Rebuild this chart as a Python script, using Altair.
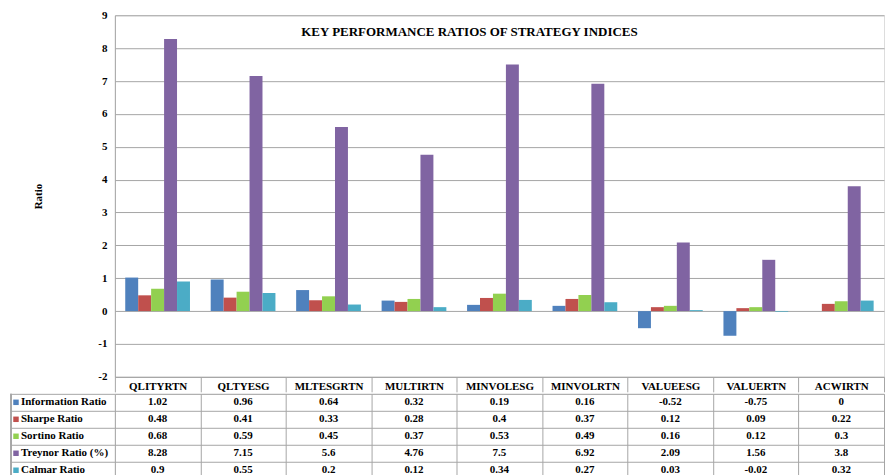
import altair as alt
import pandas as pd

categories = ["QLITYRTN", "QLTYESG", "MLTESGRTN", "MULTIRTN", "MINVOLESG",
              "MINVOLRTN", "VALUEESG", "VALUERTN", "ACWIRTN"]
series_names = ["Information Ratio", "Sharpe Ratio", "Sortino Ratio",
                "Treynor Ratio (%)", "Calmar Ratio"]
information = [1.02, 0.96, 0.64, 0.32, 0.19, 0.16, -0.52, -0.75, 0]
sharpe = [0.48, 0.41, 0.33, 0.28, 0.4, 0.37, 0.12, 0.09, 0.22]
sortino = [0.68, 0.59, 0.45, 0.37, 0.53, 0.49, 0.16, 0.12, 0.3]
treynor = [8.28, 7.15, 5.6, 4.76, 7.5, 6.92, 2.09, 1.56, 3.8]
calmar = [0.9, 0.55, 0.2, 0.12, 0.34, 0.27, 0.03, -0.02, 0.32]
colors = ["#4F81BD", "#C0504D", "#92D050", "#8064A2", "#4BACC6"]
y_ticks = list(range(-2, 10))

values = [information, sharpe, sortino, treynor, calmar]
rows = []
for s, vals in zip(series_names, values):
    for c, v in zip(categories, vals):
        rows.append({"category": c, "series": s, "value": v, "label": f"{v:g}"})
df = pd.DataFrame(rows)
legend_df = pd.DataFrame({"series": series_names})

FONT = "Liberation Serif"
GRID = "#A6A6A6"
W = 770
H = 362
ROW = 17

x_scale = alt.Scale(domain=categories, paddingInner=0, paddingOuter=0)
color_scale = alt.Scale(domain=series_names, range=colors)

bars = alt.Chart(df).mark_bar().encode(
    x=alt.X("category:N", scale=x_scale, sort=categories,
            axis=alt.Axis(title=None, labelAngle=0, labelFont=FONT, labelFontWeight="bold",
                          labelFontSize=11, labelColor="black", tickBand="extent",
                          tickSize=15, tickColor=GRID, domainColor=GRID,
                          labelBaseline="bottom", labelPadding=0)),
    xOffset=alt.XOffset("series:N", sort=series_names,
                        scale=alt.Scale(domain=series_names, paddingOuter=0.8, paddingInner=0)),
    y=alt.Y("value:Q", scale=alt.Scale(domain=[-2, 9], nice=False),
            axis=alt.Axis(title="Ratio", values=y_ticks, labelExpr="'' + datum.value",
                          labelFont=FONT,
                          labelFontWeight="bold", labelFontSize=11, labelColor="black",
                          ticks=False, labelPadding=8, gridColor=GRID, domainColor=GRID,
                          titleFont=FONT, titleFontWeight="bold", titleFontSize=11,
                          titleColor="black", titlePadding=54)),
    color=alt.Color("series:N", scale=color_scale, legend=None),
).properties(
    width=W, height=H,
    title=alt.TitleParams("KEY PERFORMANCE RATIOS OF STRATEGY INDICES", font=FONT,
                          fontSize=13, fontWeight="bold", color="black",
                          anchor="middle", offset=-30, dx=-30),
)

y_tab = alt.Y("series:N", sort=series_names,
              scale=alt.Scale(domain=series_names, paddingInner=0, paddingOuter=0),
              axis=alt.Axis(title=None, labels=False, ticks=True, tickSize=104,
                            tickBand="extent", grid=True, gridColor=GRID, tickColor=GRID,
                            domain=False))

cells = alt.Chart(df).mark_text(font=FONT, fontWeight="bold", fontSize=11,
                                color="black").encode(
    x=alt.X("category:N", scale=x_scale, sort=categories,
            axis=alt.Axis(title=None, labels=False, ticks=False, domain=False, grid=True,
                          tickBand="extent", gridColor=GRID)),
    y=y_tab,
    text="label:N",
)

row_labels = alt.Chart(legend_df).mark_text(font=FONT, fontWeight="bold", fontSize=11,
                                            color="black", align="left").encode(
    x=alt.value(-94),
    y=y_tab,
    text="series:N",
)

squares = alt.Chart(legend_df).mark_square(size=30, opacity=1).encode(
    x=alt.value(-99),
    y=y_tab,
    color=alt.Color("series:N", scale=color_scale, legend=None),
)

left_border = alt.Chart(legend_df).mark_rule(color=GRID).encode(
    x=alt.value(-104), y=alt.value(0), y2=alt.value(ROW * 5),
)

table = alt.layer(cells, row_labels, squares, left_border).properties(width=W, height=ROW * 5)

chart = alt.vconcat(bars, table, spacing=0).properties(
    padding={"left": 2, "top": 0, "right": 0, "bottom": 0}
).configure_view(stroke=GRID).configure(background="white")

chart.save("out.html", embed_options={"renderer": "svg", "actions": False})
